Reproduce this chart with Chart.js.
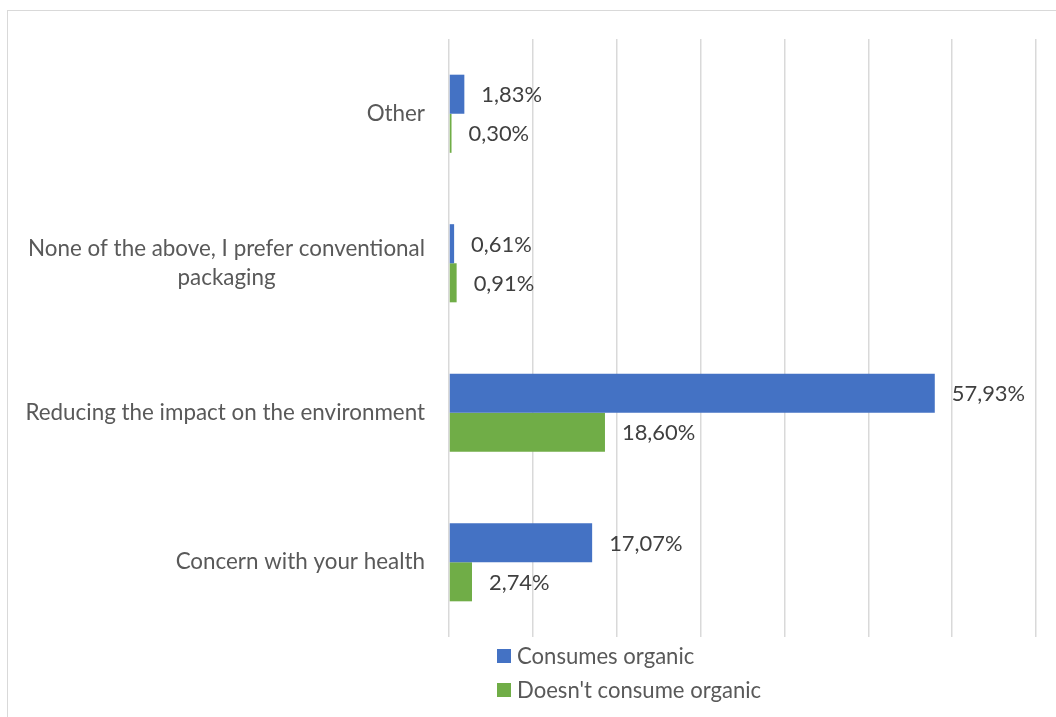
<!DOCTYPE html>
<html>
<head>
<meta charset="utf-8">
<title>Packaging preferences</title>
<script src="https://cdn.jsdelivr.net/npm/chart.js@4.4.1/dist/chart.umd.min.js"></script>
<style>
  html, body { margin: 0; padding: 0; background: #ffffff; overflow: hidden; }
  #frame {
    position: absolute; left: 7px; top: 10px; width: 1100px; height: 760px;
    border: 1px solid #d9d9d9; box-sizing: border-box;
  }
  #wrap { position: absolute; left: 0; top: 0; width: 1056px; height: 717px; }
</style>
</head>
<body>
<div id="frame"></div>
<div id="wrap"><canvas id="chart" width="1056" height="717"></canvas></div>
<script>
// Reasons given, listed top to bottom
const categories = [
  'Other',
  ['None of the above, I prefer conventional', 'packaging'],
  'Reducing the impact on the environment',
  'Concern with your health'
];
const seriesNames = ['Consumes organic', "Doesn't consume organic"];
const consumesOrganic = [1.83, 0.61, 57.93, 17.07];
const doesntConsumeOrganic = [0.30, 0.91, 18.60, 2.74];
const axisTicks = [0, 10, 20, 30, 40, 50, 60, 70];

const BLUE = '#4472C4';
const GREEN = '#70AD47';
const FONT = 'Lato, "Open Sans", sans-serif';
const CAT_SIZE = 22.4;
const VALUE_SIZE = 21.9;
const LEGEND_SIZE = 22.1;

function pct(v) { return v.toFixed(2).replace('.', ',') + '%'; }

// Category labels: lines centred on one another, block right-aligned to the axis
const categoryLabels = {
  id: 'categoryLabels',
  afterDraw(chart) {
    const y = chart.scales.y;
    const ctx = chart.ctx;
    const right = y.right - 24;
    const lineH = 29;
    ctx.save();
    ctx.font = CAT_SIZE + 'px ' + FONT;
    ctx.fillStyle = '#595959';
    ctx.textBaseline = 'middle';
    ctx.textAlign = 'center';
    chart.data.labels.forEach((lab, i) => {
      const lines = Array.isArray(lab) ? lab : [lab];
      const w = Math.max(...lines.map(l => ctx.measureText(l).width));
      const cx = right - w / 2;
      const cy = y.getPixelForTick(i);
      lines.forEach((l, k) => {
        ctx.fillText(l, cx, cy + (k - (lines.length - 1) / 2) * lineH);
      });
    });
    ctx.restore();
  }
};

// Value labels just past the end of each bar
const valueLabels = {
  id: 'valueLabels',
  afterDatasetsDraw(chart) {
    const ctx = chart.ctx;
    ctx.save();
    ctx.font = VALUE_SIZE + 'px ' + FONT;
    ctx.fillStyle = '#404040';
    ctx.textBaseline = 'middle';
    ctx.textAlign = 'left';
    chart.data.datasets.forEach((ds, di) => {
      chart.getDatasetMeta(di).data.forEach((el, i) => {
        ctx.fillText(pct(ds.data[i]), el.x + 17, el.y + 1);
      });
    });
    ctx.restore();
  }
};

// Legend stacked in two rows under the plot
const stackedLegend = {
  id: 'stackedLegend',
  afterDraw(chart) {
    const ctx = chart.ctx;
    const x0 = 497;
    const rows = [656, 690];
    ctx.save();
    ctx.font = LEGEND_SIZE + 'px ' + FONT;
    ctx.textBaseline = 'middle';
    ctx.textAlign = 'left';
    chart.data.datasets.forEach((ds, i) => {
      const cy = rows[i];
      ctx.fillStyle = ds.backgroundColor;
      ctx.fillRect(x0, cy - 7, 14, 14);
      ctx.fillStyle = '#595959';
      ctx.fillText(ds.label, x0 + 20, cy + 1);
    });
    ctx.restore();
  }
};

new Chart(document.getElementById('chart'), {
  type: 'bar',
  data: {
    labels: categories,
    datasets: [
      { label: seriesNames[0], data: consumesOrganic, backgroundColor: BLUE },
      { label: seriesNames[1], data: doesntConsumeOrganic, backgroundColor: GREEN }
    ]
  },
  options: {
    indexAxis: 'y',
    responsive: false,
    animation: false,
    categoryPercentage: 0.5226,
    barPercentage: 1,
    layout: { padding: { top: 39, right: 20, bottom: 80, left: 0 } },
    plugins: {
      legend: { display: false },
      tooltip: { enabled: false }
    },
    scales: {
      x: {
        min: axisTicks[0],
        max: axisTicks[axisTicks.length - 1],
        afterBuildTicks(scale) { scale.ticks = axisTicks.map(v => ({ value: v })); },
        ticks: { display: false },
        grid: { color: '#d9d9d9', lineWidth: 1.5, drawTicks: false },
        border: { display: false }
      },
      y: {
        ticks: {
          color: 'rgba(0,0,0,0)',
          padding: 24,
          font: { family: FONT, size: CAT_SIZE }
        },
        afterFit(scale) { scale.width = 449; },
        grid: { display: false, drawTicks: false },
        border: { display: false }
      }
    }
  },
  plugins: [categoryLabels, valueLabels, stackedLegend]
});
</script>
</body>
</html>
